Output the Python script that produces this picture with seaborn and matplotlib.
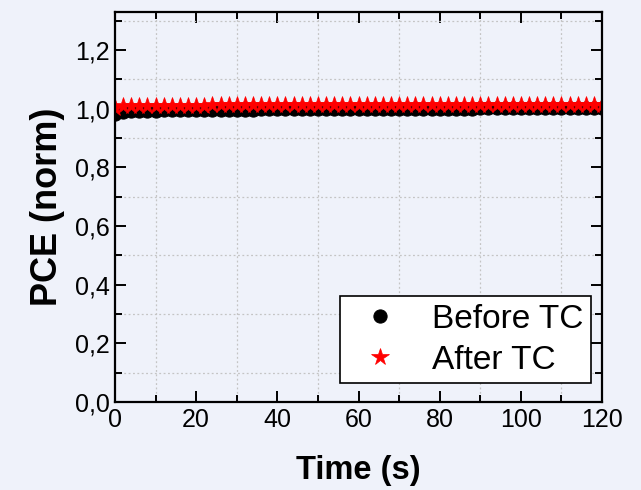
import matplotlib
matplotlib.use("Agg")
import pandas as pd
import matplotlib.pyplot as plt
import seaborn as sns
from matplotlib.ticker import MultipleLocator, FuncFormatter

# Data (time step 2 s)
time_s = [0, 2, 4, 6, 8, 10, 12, 14, 16, 18, 20, 22, 24, 26, 28, 30, 32, 34, 36, 38,
          40, 42, 44, 46, 48, 50, 52, 54, 56, 58, 60, 62, 64, 66, 68, 70, 72, 74, 76, 78,
          80, 82, 84, 86, 88, 90, 92, 94, 96, 98, 100, 102, 104, 106, 108, 110, 112, 114, 116, 118, 120]
before_tc = [0.982, 0.990, 0.992, 0.993, 0.994, 0.994, 0.995, 0.995, 0.995, 0.996, 0.996,
             0.996, 0.996, 0.997, 0.997, 0.997, 0.997, 0.997, 0.998, 0.998, 0.998,
             0.998, 0.998, 0.998, 0.998, 0.999, 0.999, 0.999, 0.999, 0.999, 0.999,
             0.999, 0.999, 0.999, 1.000, 1.000, 1.000, 1.000, 1.000, 1.000, 1.000,
             1.000, 1.000, 1.000, 1.000, 1.001, 1.001, 1.001, 1.001, 1.001, 1.001,
             1.001, 1.001, 1.001, 1.001, 1.001, 1.002, 1.002, 1.002, 1.002, 1.003]
after_tc = [1.004, 1.008, 1.009, 1.010, 1.010, 1.010, 1.011, 1.011, 1.011, 1.011, 1.011,
            1.011, 1.012, 1.012, 1.012, 1.012, 1.012, 1.012, 1.012, 1.012, 1.012,
            1.012, 1.012, 1.012, 1.012, 1.012, 1.012, 1.012, 1.012, 1.012, 1.012,
            1.012, 1.012, 1.012, 1.012, 1.012, 1.012, 1.012, 1.012, 1.012, 1.012,
            1.012, 1.012, 1.012, 1.012, 1.012, 1.012, 1.012, 1.012, 1.012, 1.012,
            1.012, 1.012, 1.012, 1.012, 1.012, 1.012, 1.012, 1.012, 1.012, 1.013]

df = pd.DataFrame({"Time": time_s, "Before TC": before_tc, "After TC": after_tc})

sns.set_style("ticks")
bg = "#eff2fa"
plt.rcParams["font.family"] = ["Liberation Sans", "DejaVu Sans"]
plt.rcParams["text.color"] = "black"
plt.rcParams["axes.labelcolor"] = "black"

fig = plt.figure(figsize=(6.41, 4.90), dpi=100, facecolor=bg)
ax = fig.add_axes([0.1794, 0.1796, 0.9392 - 0.1794, 0.9755 - 0.1796])
ax.set_facecolor(bg)

sns.lineplot(data=df, x="Time", y="Before TC", ax=ax, linestyle="none",
             marker="o", markersize=9.5, color="black", markeredgecolor="black",
             label="Before TC")
sns.lineplot(data=df, x="Time", y="After TC", ax=ax, linestyle="none",
             marker="*", markersize=13, color="red", markeredgecolor="red",
             markeredgewidth=0.5, label="After TC")

ax.set_xlim(0, 120)
ax.set_ylim(0, 1.33)
ax.xaxis.set_major_locator(MultipleLocator(20))
ax.xaxis.set_minor_locator(MultipleLocator(10))
ax.yaxis.set_major_locator(MultipleLocator(0.2))
ax.yaxis.set_minor_locator(MultipleLocator(0.1))
ax.yaxis.set_major_formatter(FuncFormatter(lambda v, p: f"{v:.1f}".replace(".", ",")))

ax.grid(False)
ax.grid(which="minor", linestyle=(0, (1.5, 2)), color="#c4c4c4", linewidth=0.9)
ax.set_axisbelow(True)

for s in ax.spines.values():
    s.set_visible(True)
    s.set_linewidth(1.6)
    s.set_color("black")

ax.tick_params(which="both", direction="in", top=True, right=True, width=1.4,
               labelsize=18, colors="black")
ax.tick_params(which="major", length=8, pad=4)
ax.tick_params(which="minor", length=5)

ax.set_xlabel("Time (s)", fontsize=23.5, fontweight="bold", labelpad=17, color="black")
ax.set_ylabel("PCE (norm)", fontsize=26, fontweight="bold", labelpad=7, color="black")

leg = ax.legend(loc="lower right", bbox_to_anchor=(0.977, 0.049), fontsize=24,
                frameon=True, fancybox=False, edgecolor="black", facecolor="white",
                framealpha=1, handletextpad=0.55, borderpad=0.22, labelspacing=0.3,
                handlelength=2.0, borderaxespad=0)
leg.get_frame().set_linewidth(1.2)

fig.savefig("out.png", dpi=100, facecolor=bg)
